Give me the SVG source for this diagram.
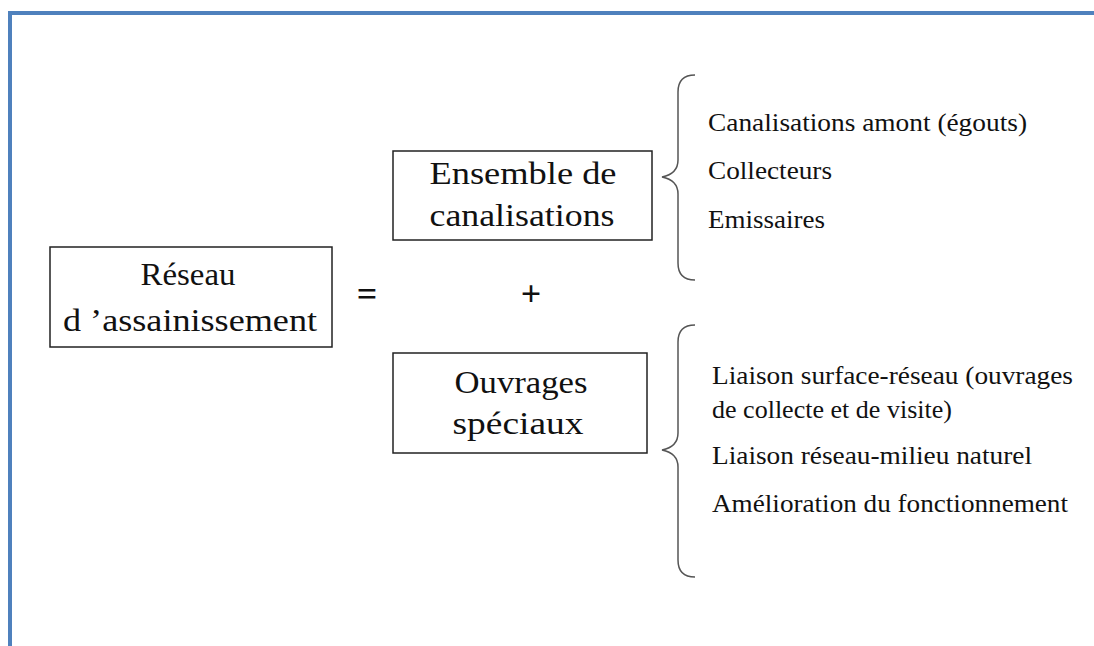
<svg xmlns="http://www.w3.org/2000/svg" width="1094" height="646" viewBox="0 0 1094 646">
<style>
.frame{stroke:#4f81bd;stroke-width:4;fill:none}
.box{fill:#fff;stroke:#222;stroke-width:1.5}
.t{font-family:"Liberation Serif","Times New Roman",serif;fill:#111}
.big{font-size:32px;text-anchor:middle}
.op{font-size:36px;text-anchor:middle;font-weight:bold}
.small{font-size:25px}
.brace{fill:none;stroke:#555;stroke-width:1.5}
</style>
<rect width="1094" height="646" fill="#fff"/>
<path class="frame" d="M10 646 V13 H1094"/>
<g id="node-reseau">
<rect class="box" x="50" y="247" width="282" height="100"/>
<text class="t big" x="188" y="285" textLength="95" lengthAdjust="spacingAndGlyphs">Réseau</text>
<text class="t big" x="190" y="331" textLength="254" lengthAdjust="spacingAndGlyphs">d ’assainissement</text>
</g>
<g id="op-equal"><text class="t op" x="367" y="306">=</text></g>
<g id="op-plus"><text class="t op" x="531" y="306">+</text></g>
<g id="node-ensemble">
<rect class="box" x="393" y="151" width="259" height="89"/>
<text class="t big" x="523" y="184" textLength="187" lengthAdjust="spacingAndGlyphs">Ensemble de</text>
<text class="t big" x="522" y="226" textLength="185" lengthAdjust="spacingAndGlyphs">canalisations</text>
</g>
<g id="node-ouvrages">
<rect class="box" x="393" y="353" width="254" height="100"/>
<text class="t big" x="521" y="393" textLength="133" lengthAdjust="spacingAndGlyphs">Ouvrages</text>
<text class="t big" x="518" y="434" textLength="131" lengthAdjust="spacingAndGlyphs">spéciaux</text>
</g>
<g id="connectors">
<path class="brace" d="M695 75 C684 75 678 80 678 92 V160 C678 170 672 175 662 177 C672 179 678 184 678 194 V263 C678 275 684 280 695 280"/>
<path class="brace" d="M695 325 C684 325 678 330 678 342 V433 C678 443 672 448 662 450 C672 452 678 457 678 467 V560 C678 572 684 577 695 577"/>
</g>
<g id="list-canalisations">
<text class="t small" x="708" y="131" textLength="319" lengthAdjust="spacingAndGlyphs">Canalisations amont (égouts)</text>
<text class="t small" x="708" y="179" textLength="124" lengthAdjust="spacingAndGlyphs">Collecteurs</text>
<text class="t small" x="708" y="228" textLength="117" lengthAdjust="spacingAndGlyphs">Emissaires</text>
</g>
<g id="list-ouvrages">
<text class="t small" x="712" y="384" textLength="361" lengthAdjust="spacingAndGlyphs">Liaison surface-réseau (ouvrages</text>
<text class="t small" x="712" y="418" textLength="240" lengthAdjust="spacingAndGlyphs">de collecte et de visite)</text>
<text class="t small" x="712" y="464" textLength="320" lengthAdjust="spacingAndGlyphs">Liaison réseau-milieu naturel</text>
<text class="t small" x="712" y="512" textLength="356" lengthAdjust="spacingAndGlyphs">Amélioration du fonctionnement</text>
</g>
</svg>
